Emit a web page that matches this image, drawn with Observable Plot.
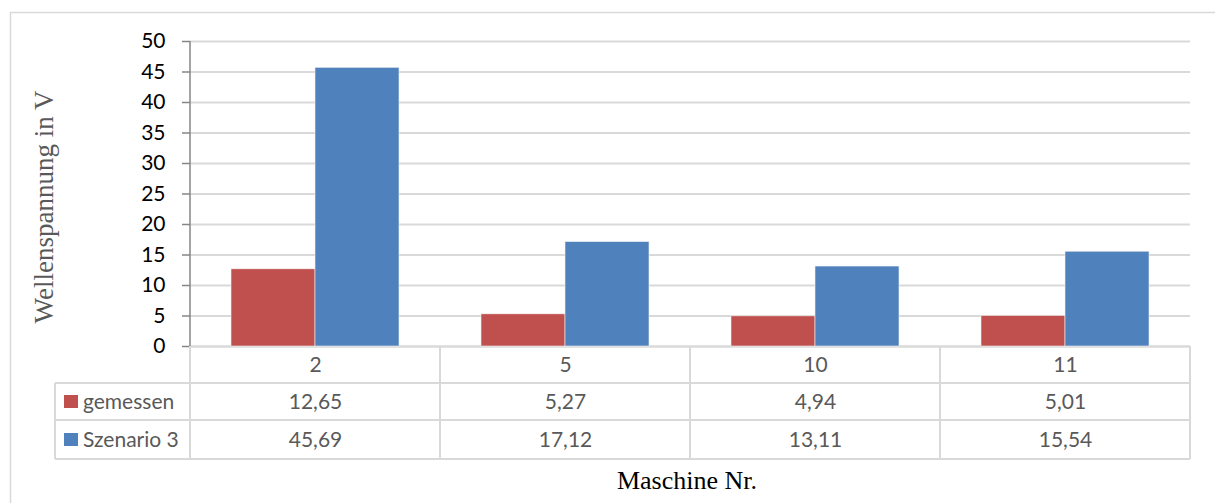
<!DOCTYPE html>
<html>
<head>
<meta charset="utf-8">
<script src="https://cdn.jsdelivr.net/npm/d3@7"></script>
<script src="https://cdn.jsdelivr.net/npm/@observablehq/plot@0.6"></script>
<style>
  html, body { margin: 0; padding: 0; background: #fff; }
  #chart svg { display: block; }
</style>
</head>
<body>
<div id="chart"></div>
<script>
// ---- data ----
const categories = ["2", "5", "10", "11"];
const series = ["gemessen", "Szenario 3"];
const gemessen = [12.65, 5.27, 4.94, 5.01];
const szenario3 = [45.69, 17.12, 13.11, 15.54];
const colors = ["#C0504D", "#4F81BD"];
const yTicks = [0, 5, 10, 15, 20, 25, 30, 35, 40, 45, 50];
const yLabel = "Wellenspannung in V";
const xLabel = "Maschine Nr.";

const seriesValues = [gemessen, szenario3];
const data = [];
series.forEach((s, si) => categories.forEach((c, ci) => data.push({cat: c, series: s, value: seriesValues[si][ci]})));
const fmt = v => d3.format(".2f")(v).replace(".", ",");

const W = 1215, H = 503;
const mL = 190, mR = 25, mT = 41, mB = 157;
const rowDy = [18.5, 55.5, 93.5];
const tableFont = "Lato, 'Open Sans', sans-serif";
const tableSize = 21;

const chart = Plot.plot({
  width: W, height: H,
  marginLeft: mL, marginRight: mR, marginTop: mT, marginBottom: mB,
  style: {background: "white", overflow: "visible"},
  fx: {domain: categories, paddingInner: 0, paddingOuter: 0, axis: null, label: null},
  x: {domain: series, paddingInner: 0, paddingOuter: 0.48, axis: null},
  y: {domain: [0, 50], axis: null},
  color: {domain: series, range: colors},
  marks: [
    Plot.gridY(yTicks, {stroke: "#d9d9d9", strokeOpacity: 1, strokeWidth: 2}),
    Plot.ruleY([0], {stroke: "#d9d9d9", strokeWidth: 2}),
    Plot.barY(data, {fx: "cat", x: "series", y: "value", fill: "series", stroke: "#f2f2f2", strokeWidth: 0.6}),
    Plot.axisY({ticks: yTicks, tickSize: 8, tickPadding: 17, fontSize: 21, fontFamily: "Lato, sans-serif",
      stroke: "#868686", fill: "#000", strokeWidth: 1.5, label: null, tickFormat: d => d}),
    Plot.text(categories, {fx: d => d, text: d => d, frameAnchor: "bottom", lineAnchor: "middle", dy: rowDy[0],
      fontSize: tableSize, fontFamily: tableFont, fill: "#595959"}),
    Plot.text(data.filter(d => d.series === series[0]), {fx: "cat", text: d => fmt(d.value), frameAnchor: "bottom", lineAnchor: "middle", dy: rowDy[1],
      fontSize: tableSize, fontFamily: tableFont, fill: "#595959"}),
    Plot.text(data.filter(d => d.series === series[1]), {fx: "cat", text: d => fmt(d.value), frameAnchor: "bottom", lineAnchor: "middle", dy: rowDy[2],
      fontSize: tableSize, fontFamily: tableFont, fill: "#595959"})
  ]
});
document.getElementById("chart").appendChild(chart);

// ---- decorations using the chart's scales ----
const fx = chart.scale("fx");
const ys = chart.scale("y");
const svg = d3.select(chart);
const y0 = ys.apply(0), yTop = ys.apply(50);
const xs = categories.map(c => fx.apply(c));
const xRight = xs[xs.length - 1] + fx.bandwidth;
const xLeft = xs[0];
const legendLeft = 55;
const rowEdges = [y0, y0 + 37, y0 + 74, y0 + 113];

const g = svg.insert("g", ":first-child");
// outer chart border
g.append("rect").attr("x", 10.5).attr("y", 12.5).attr("width", W + 20).attr("height", H + 20)
  .attr("fill", "none").attr("stroke", "#d9d9d9").attr("stroke-width", 1.5);

const t = svg.append("g").attr("stroke", "#d9d9d9").attr("stroke-width", 2);
// horizontal table lines
rowEdges.slice(1).forEach(yy => t.append("line").attr("x1", legendLeft).attr("x2", xRight).attr("y1", yy).attr("y2", yy));
// vertical table lines
xs.concat([xRight]).forEach(xx => t.append("line").attr("x1", xx).attr("x2", xx).attr("y1", y0).attr("y2", rowEdges[3]));
t.append("line").attr("x1", legendLeft).attr("x2", legendLeft).attr("y1", rowEdges[1]).attr("y2", rowEdges[3]);

// y axis line
svg.append("line").attr("x1", xLeft).attr("x2", xLeft).attr("y1", yTop).attr("y2", y0)
  .attr("stroke", "#868686").attr("stroke-width", 1.5);

// legend keys in table
series.forEach((s, i) => {
  const cy = y0 + rowDy[i + 1];
  svg.append("rect").attr("x", 64).attr("y", cy - 6.5).attr("width", 14).attr("height", 13).attr("fill", colors[i]);
  svg.append("text").attr("x", 83).attr("y", cy).attr("dy", "0.35em").attr("text-anchor", "start")
    .attr("font-family", tableFont).attr("font-size", tableSize).attr("fill", "#595959").text(s);
});

// axis titles
svg.append("text").attr("transform", `translate(53,207) rotate(-90)`).attr("text-anchor", "middle")
  .attr("font-family", "'Liberation Serif', 'Times New Roman', serif").attr("font-size", 27).attr("fill", "#595959").text(yLabel);
svg.append("text").attr("x", 687).attr("y", 489).attr("text-anchor", "middle")
  .attr("font-family", "'Liberation Serif', 'Times New Roman', serif").attr("font-size", 26).attr("fill", "#000").text(xLabel);
</script>
</body>
</html>
